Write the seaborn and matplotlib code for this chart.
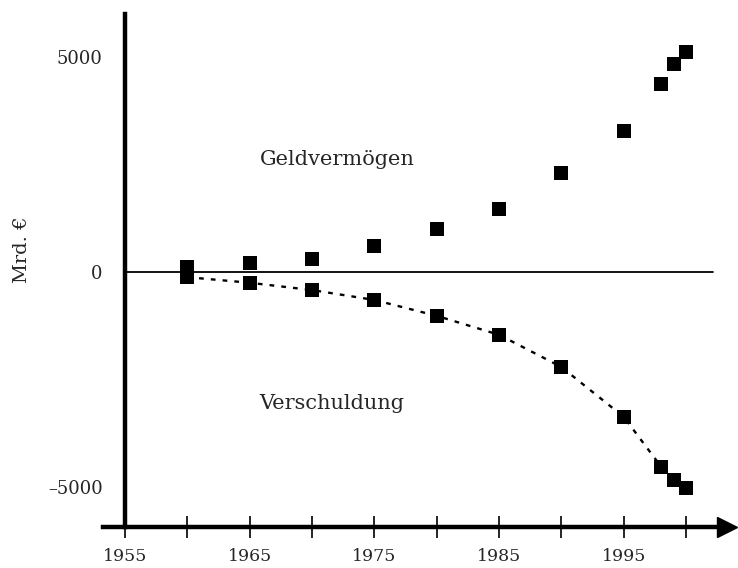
import matplotlib
matplotlib.use("Agg")
import matplotlib.pyplot as plt
import seaborn as sns
import pandas as pd

years = [1960, 1965, 1970, 1975, 1980, 1985, 1990, 1995, 1998, 1999, 2000]
geldvermoegen = [110, 210, 310, 600, 1000, 1460, 2300, 3280, 4370, 4840, 5120]
verschuldung = [-120, -250, -420, -650, -1020, -1460, -2210, -3370, -4530, -4840, -5020]
xticks = [1955, 1960, 1965, 1970, 1975, 1980, 1985, 1990, 1995, 2000]
xticklabels = ["1955", "", "1965", "", "1975", "", "1985", "", "1995", ""]
yticks = [5000, 0, -5000]
yticklabels = ["5000", "0", "\u20135000"]

df = pd.DataFrame({"Jahr": years, "Geld": geldvermoegen, "Schuld": verschuldung})

sns.set_theme(style="white")
plt.rcParams["font.family"] = ["DejaVu Serif"]

fig = plt.figure(figsize=(7.38, 5.68), dpi=100)
ax = fig.add_axes([0, 0, 1, 1])
ax.set_xlim(1944.98, 2004.16)
ax.set_ylim(-6884, 6326)

# zero line
ax.plot([1955, 2002.15], [0, 0], color="black", lw=1.3, zorder=1)

sns.lineplot(data=df, x="Jahr", y="Schuld", ax=ax, color="black", lw=1.7,
             linestyle=(0, (2, 3)), zorder=2)
sns.scatterplot(data=df, x="Jahr", y="Geld", ax=ax, marker="s", s=110,
                color="black", edgecolor="black", linewidth=0, zorder=3)
sns.scatterplot(data=df, x="Jahr", y="Schuld", ax=ax, marker="s", s=110,
                color="black", edgecolor="black", linewidth=0, zorder=3)

for s in ["top", "right"]:
    ax.spines[s].set_visible(False)
ax.spines["left"].set_position(("data", 1955))
ax.spines["left"].set_bounds(-5930, 6000)
ax.spines["left"].set_linewidth(3.2)
ax.spines["left"].set_color("black")
ax.spines["bottom"].set_position(("data", -5930))
ax.spines["bottom"].set_bounds(1953.2, 2003.2)
ax.spines["bottom"].set_linewidth(3.2)
ax.spines["bottom"].set_color("black")
ax.plot([2003.3], [-5930], marker=">", ms=14, color="black", clip_on=False, zorder=4)

ax.set_xticks(xticks)
ax.set_xticklabels(xticklabels, fontsize=12.5)
ax.set_yticks(yticks)
ax.set_yticklabels(yticklabels, fontsize=13)
ax.tick_params(axis="x", direction="inout", length=16, width=1.2, color="black",
               pad=7, bottom=True)
ax.tick_params(axis="y", length=0, pad=16, left=True)

ax.set_xlabel("")
ax.set_ylabel("")
fig.text(0.030, 0.56, "Mrd. \u20ac", rotation=90, fontsize=14, ha="center", va="center")

ax.text(1972.0, 2620, "Geldvermögen", fontsize=15, ha="center", va="center")
ax.text(1971.6, -3060, "Verschuldung", fontsize=15, ha="center", va="center")

fig.savefig("out.png", dpi=100, facecolor="white")
